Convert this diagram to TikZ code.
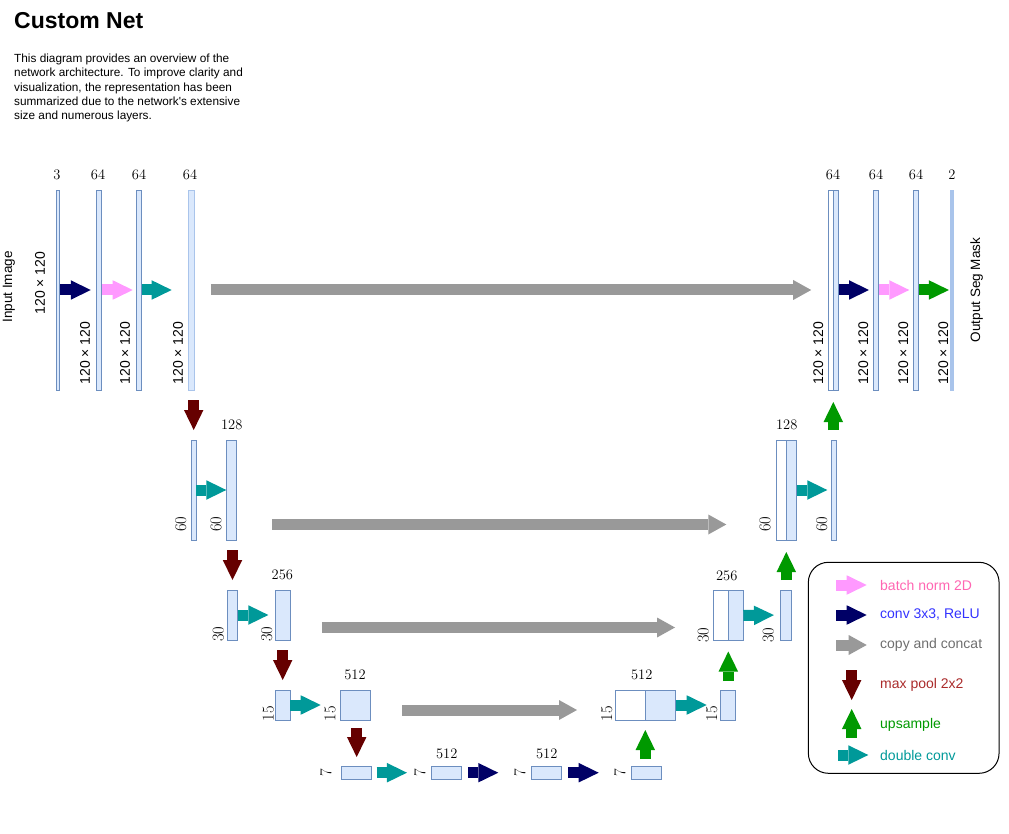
\documentclass[tikz,border=0pt]{standalone}
\usepackage{fontspec}
\usetikzlibrary{arrows.meta,positioning}
\newfontfamily\arial{Liberation Sans}
\definecolor{convcol}{HTML}{000066}
\definecolor{bncol}{HTML}{FF99FF}
\definecolor{dccol}{HTML}{009999}
\definecolor{cpcol}{HTML}{999999}
\definecolor{mpcol}{HTML}{660000}
\definecolor{upcol}{HTML}{009900}
\definecolor{lfill}{HTML}{DAE8FC}
\definecolor{ldraw}{HTML}{6C8EBF}
\definecolor{lout}{HTML}{A9C4EB}
\definecolor{bntxt}{HTML}{FF66B2}
\definecolor{convtxt}{HTML}{3333FF}
\definecolor{cptxt}{HTML}{6E6E6E}
\definecolor{mptxt}{HTML}{AA2B2B}

\begin{document}
\begin{tikzpicture}[x=1pt,y=-1pt,
layer/.style={draw=ldraw,fill=lfill,line width=0.9pt,inner sep=0pt,outer sep=0pt},
cat/.style={layer,fill=white},
chan/.style={font=\fontsize{14.5}{14.5}\selectfont,inner sep=0pt},
dimlbl/.style={rotate=90,font=\arial\fontsize{14}{14}\selectfont,inner sep=0pt},
sidelbl/.style={rotate=90,font=\fontsize{16.5}{16.5}\selectfont,inner sep=0pt},
keytxt/.style={font=\arial\fontsize{14}{14}\selectfont,inner sep=0pt,anchor=west},
fat/.style={line width=11pt,-{Triangle[length=20pt 0 0,width=19.5pt 0 0,line width=0pt]}},
conv/.style={fat,draw=convcol},
bn/.style={fat,draw=bncol},
dconv/.style={fat,draw=dccol},
mpool/.style={fat,draw=mpcol},
upsmp/.style={fat,draw=upcol},
cpy/.style={line width=11pt,draw=cpcol,-{Triangle[length=18pt 0 0,width=20pt 0 0,line width=0pt]}}]
\useasboundingbox (0,0) rectangle (1009,834);

\node[anchor=base west,inner sep=0pt,font=\arial\bfseries\fontsize{23}{23}\selectfont] (title) at (14,28.5) {Custom Net};
\node[anchor=north west,inner sep=0pt,align=left,font=\arial\fontsize{11.8}{14.2}\selectfont] (about) at (14,54)
{This diagram provides an overview of the\\network architecture. To improve clarity and\\visualization, the representation has been\\summarized due to the network's extensive\\size and numerous layers.};

\node[layer,minimum width=3pt,minimum height=200pt] (E0) at (57.8,290) {};
\node[layer,minimum width=4.7pt,minimum height=200pt] (E1) at (98.7,290) {};
\node[layer,minimum width=4.6pt,minimum height=200pt] (E2) at (139,290) {};
\node[layer,draw=lout,minimum width=5.3pt,minimum height=200pt] (E3) at (191.3,290) {};
\node[cat,minimum width=4.6pt,minimum height=200pt] (U1a) at (831,290) {};
\node[layer,minimum width=5pt,minimum height=200pt] (U1b) at (835.8,290) {};
\node[layer,minimum width=5pt,minimum height=200pt] (U1c) at (875.8,290) {};
\node[layer,minimum width=5pt,minimum height=200pt] (U1d) at (915.8,290) {};
\node[layer,draw=lout,fill=lout,minimum width=2.6pt,minimum height=200pt] (out) at (951.9,290) {};

\node[layer,minimum width=4.7pt,minimum height=100pt] (D2a) at (193.7,490) {};
\node[layer,minimum width=10pt,minimum height=100pt] (D2b) at (231.3,490) {};
\node[cat,minimum width=10pt,minimum height=100pt] (U2a) at (781.3,490) {};
\node[layer,minimum width=10.4pt,minimum height=100pt] (U2b) at (791.5,490) {};
\node[layer,minimum width=5pt,minimum height=100pt] (U2c) at (834.2,490) {};

\node[layer,minimum width=10.4pt,minimum height=50pt] (D3a) at (232.5,615) {};
\node[layer,minimum width=15.3pt,minimum height=50pt] (D3b) at (282.7,615) {};
\node[cat,minimum width=15pt,minimum height=50pt] (U3a) at (720.8,615.5) {};
\node[layer,minimum width=15pt,minimum height=50pt] (U3b) at (735.8,615.5) {};
\node[layer,minimum width=10.3pt,minimum height=50pt] (U3c) at (785.8,615) {};

\node[layer,minimum width=15.3pt,minimum height=30pt] (D4a) at (282.7,705) {};
\node[layer,minimum width=30pt,minimum height=30pt] (D4b) at (355,705) {};
\node[cat,minimum width=30pt,minimum height=30pt] (U4a) at (630.3,705) {};
\node[layer,minimum width=30.4pt,minimum height=30pt] (U4b) at (660.5,705) {};
\node[layer,minimum width=15pt,minimum height=30pt] (U4c) at (728.2,705) {};

\node[layer,minimum width=30pt,minimum height=13.3pt] (B5a) at (356.7,772.7) {};
\node[layer,minimum width=30.7pt,minimum height=13.3pt] (B5b) at (446.3,772.7) {};
\node[layer,minimum width=30.7pt,minimum height=13.3pt] (B5c) at (546.3,772.7) {};
\node[layer,minimum width=30pt,minimum height=13.3pt] (B5d) at (646.7,772.7) {};

\node[chan] (nE0) at (57,175) {3};
\node[chan] (nE1) at (98,175) {64};
\node[chan] (nE2) at (139,175) {64};
\node[chan] (nE3) at (190,175) {64};
\node[chan] (nU1b) at (833,175) {64};
\node[chan] (nU1c) at (876,175) {64};
\node[chan] (nU1d) at (916,175) {64};
\node[chan] (nout) at (952,175) {2};
\node[chan] (nD2b) at (231.7,425) {128};
\node[chan] (nU2b) at (786.7,425) {128};
\node[chan] (nD3b) at (282.3,575) {256};
\node[chan] (nU3b) at (726.7,576) {256};
\node[chan] (nD4b) at (355,675) {512};
\node[chan] (nU4b) at (641.7,675) {512};
\node[chan] (nB5b) at (446.7,754) {512};
\node[chan] (nB5c) at (546.7,754) {512};

\node[dimlbl,font=\arial\fontsize{13.5}{13.5}\selectfont] (inlbl) at (9,287) {Input Image};
\node[dimlbl,font=\arial\fontsize{13.5}{13.5}\selectfont] (outlbl) at (976.7,290) {Output Seg Mask};
\node[dimlbl] (sE0) at (40,283) {120 × 120};
\node[dimlbl] (sE1) at (85,353) {120 × 120};
\node[dimlbl] (sE2) at (125,353) {120 × 120};
\node[dimlbl] (sE3) at (178,353) {120 × 120};
\node[dimlbl] (sU1b) at (818.3,353) {120 × 120};
\node[dimlbl] (sU1c) at (863.3,353) {120 × 120};
\node[dimlbl] (sU1d) at (903.3,353) {120 × 120};
\node[dimlbl] (sout) at (943.3,353) {120 × 120};

\node[sidelbl] (sD2a) at (180.7,524) {60};
\node[sidelbl] (sD2b) at (216,524) {60};
\node[sidelbl] (sU2a) at (765,524) {60};
\node[sidelbl] (sU2c) at (821.7,524) {60};
\node[sidelbl] (sD3a) at (218.3,634) {30};
\node[sidelbl] (sD3b) at (266.7,634) {30};
\node[sidelbl] (sU3a) at (703.3,635) {30};
\node[sidelbl] (sU3c) at (768.3,635) {30};
\node[sidelbl] (sD4a) at (268.3,713.7) {15};
\node[sidelbl] (sD4b) at (330,713.7) {15};
\node[sidelbl] (sU4a) at (606.7,713.7) {15};
\node[sidelbl] (sU4c) at (711.7,713.7) {15};
\node[sidelbl] (sB5a) at (326,773) {7};
\node[sidelbl] (sB5b) at (420,773) {7};
\node[sidelbl] (sB5c) at (520,773) {7};
\node[sidelbl] (sB5d) at (620,773) {7};

\draw[conv,shorten <=0.7pt,shorten >=5.6pt] (E0.east) -- (E1.west);
\draw[bn,shorten <=0.7pt,shorten >=4pt] (E1.east) -- (E2.west);
\draw[dconv,shorten <=0.4pt,shorten >=17pt] (E2.east) -- (E3.west);
\draw[conv,shorten <=0.4pt,shorten >=4.3pt] (U1b.east) -- (U1c.west);
\draw[bn,shorten <=0.7pt,shorten >=4pt] (U1c.east) -- (U1d.west);
\draw[upsmp,shorten <=0.7pt,shorten >=1.7pt] (U1d.east) -- (out.west);
\draw[dconv] (D2a.east) -- (D2b.west);
\draw[dconv,shorten >=4.4pt] (U2b.east) -- (U2c.west);
\draw[dconv,shorten >=6.7pt] (D3a.east) -- (D3b.west);
\draw[dconv,shorten >=6.7pt] (U3b.east) -- (U3c.west);
\draw[dconv,shorten >=19.3pt] (D4a.east) -- (D4b.west);
\draw[dconv,shorten >=14pt] (U4b.east) -- (U4c.west);
\draw[dconv,shorten <=5pt,shorten >=24pt] (B5a.east) -- (B5b.west);
\draw[conv,shorten <=6.6pt,shorten >=32.7pt] (B5b.east) -- (B5c.west);
\draw[conv,shorten <=6.6pt,shorten >=33pt] (B5c.east) -- (B5d.west);

\draw[cpy,shorten <=17pt,shorten >=17.5pt] (E3.east) -- (U1a.west);
\draw[cpy,shorten <=35.7pt,shorten >=50pt] ([yshift=-34.5pt]D2b.east) -- ([yshift=-34.5pt]U2a.west);
\draw[cpy,shorten <=31.4pt,shorten >=38.3pt] ([yshift=-12.5pt]D3b.east) -- ([yshift=-12pt]U3a.west);
\draw[cpy,shorten <=32pt,shorten >=38.3pt] ([yshift=-5pt]D4b.east) -- ([yshift=-5pt]U4a.west);

\draw[mpool,shorten <=10pt,shorten >=10pt] (D2a.north |- E3.south) -- (D2a.north);
\draw[mpool,shorten <=10pt,shorten >=10pt] (D3a.north |- D2b.south) -- (D3a.north);
\draw[mpool,shorten <=10pt,shorten >=10pt] (D4a.north |- D3b.south) -- (D4a.north);
\draw[mpool,shorten <=8pt,shorten >=9pt] (B5a.north |- D4b.south) -- (B5a.north);
\draw[upsmp,shorten <=7pt,shorten >=10pt] (U4a.south east |- B5d.north) -- (U4a.south east);
\draw[upsmp,shorten <=9pt,shorten >=11pt] (U3a.south east |- U4c.north) -- (U3a.south east);
\draw[upsmp,shorten <=10pt,shorten >=12pt] (U2a.south east |- U3c.north) -- (U2a.south east);
\draw[upsmp,shorten <=10pt,shorten >=12pt] (U1a.south east |- U2c.north) -- (U1a.south east);

\node[draw,line width=1pt,rounded corners=20pt,minimum width=190.7pt,minimum height=211pt,inner sep=0pt] (key) at (903.7,667.8) {};
\node[keytxt,text=bntxt] (kbn) at (880,585) {batch norm 2D};
\node[keytxt,text=convtxt] (kconv) at (880,615) {conv 3x3, ReLU};
\node[keytxt,text=cptxt] (kcp) at (880,645) {copy and concat};
\node[keytxt,text=mptxt] (kmp) at (880,685) {max pool 2x2};
\node[keytxt,text=upcol] (kup) at (880,725) {upsample};
\node[keytxt,text=dccol] (kdc) at (880,755) {double conv};
\draw[bn] ([xshift=-44pt]kbn.west) -- ([xshift=-13.3pt]kbn.west);
\draw[conv] ([xshift=-44pt]kconv.west) -- ([xshift=-13.3pt]kconv.west);
\draw[cpy] ([xshift=-44pt]kcp.west) -- ([xshift=-13.3pt]kcp.west);
\draw[mpool] ([xshift=-28.3pt,yshift=15pt]kmp.west) -- ([xshift=-28.3pt,yshift=-15pt]kmp.west);
\draw[upsmp] ([xshift=-28.3pt,yshift=-13pt]kup.west) -- ([xshift=-28.3pt,yshift=16pt]kup.west);
\draw[dconv] ([xshift=-41.7pt]kdc.west) -- ([xshift=-11.7pt]kdc.west);
\end{tikzpicture}
\end{document}
